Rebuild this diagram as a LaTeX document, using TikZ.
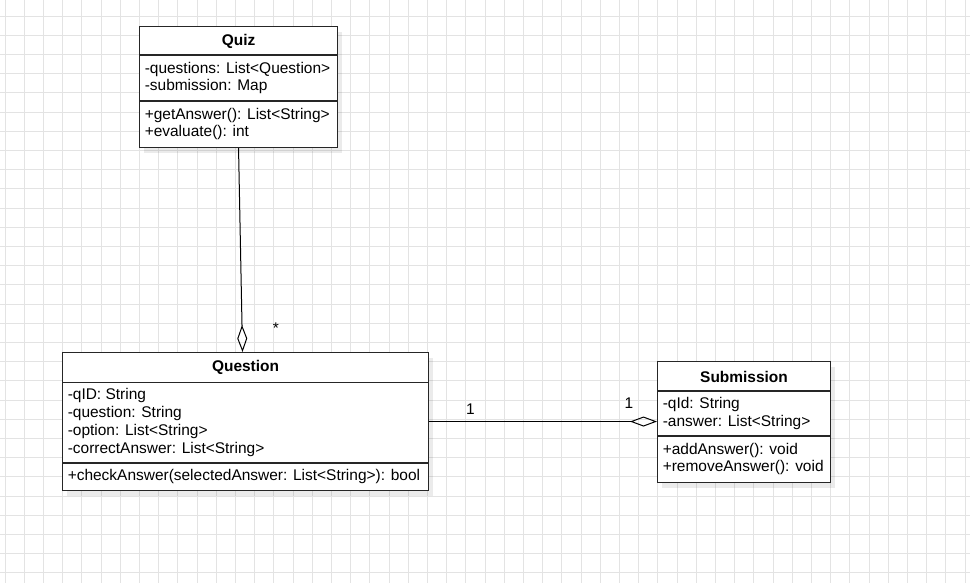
\documentclass[tikz,border=0pt]{standalone}
\usepackage{fontspec}
\setmainfont{Liberation Sans}
\usepackage{tikz}
\usetikzlibrary{arrows.meta}
\usetikzlibrary{shadows}
\newcommand*{\px   }{0.75pt}
\newcommand*{\gstp }{19.2}
\newcommand*{\indt }{5.5*\px}
\newcommand*{\umlfont}{\fontsize{11.6}{13.3}\selectfont}

\begin{document}
\begin{tikzpicture}[x=\px, y={(0,-\px)}, font=\umlfont,
        gridline/.style  = {draw=black!11, line width=0.75pt},
        classbox/.style  = {draw=black!85, line width=0.8pt, fill=white, anchor=north west, inner sep=0pt,
                            drop shadow={shadow xshift=3.5pt, shadow yshift=-4pt, fill=black, opacity=0.08}},
        classsep/.style  = {draw=black!85, line width=0.8pt},
        classtitle/.style= {font=\umlfont\bfseries, inner sep=0pt},
        members/.style   = {anchor=west, align=left, inner sep=0pt},
        mult/.style      = {anchor=base, inner sep=0pt},
        aggr/.style      = {draw=black, line width=0.75pt, -{Diamond[open, length=27*\px, width=10*\px]}}]
    \useasboundingbox [fill=white] (0,0) rectangle (970,583);
    % background grid
    \foreach \i in {0,...,50} \draw [gridline] ({5+\gstp*\i},0) -- ++(0,583);
    \foreach \j in {0,...,29} \draw [gridline] (0,{16+\gstp*\j}) -- ++(970,0);

    % Quiz
    \node [classbox, minimum width=198*\px, minimum height=121*\px] (quiz) at (139,26) {};
    \draw [classsep] ([yshift=-29*\px]quiz.north west) -- ++(198,0);
    \draw [classsep] ([yshift=-75*\px]quiz.north west) -- ++(198,0);
    \node [classtitle] (quiztitle) at ([yshift=-15*\px]quiz.north) {Quiz};
    \node [members] (quizattr) at ([xshift=\indt, yshift=-52*\px]quiz.north west)
        {-questions: List<Question>\\-submission: Map};
    \node [members] (quizops) at ([xshift=\indt, yshift=-98*\px]quiz.north west)
        {+getAnswer(): List<String>\\+evaluate(): int};

    % Question
    \node [classbox, minimum width=366*\px, minimum height=138*\px] (question) at (62,352) {};
    \draw [classsep] ([yshift=-30.5*\px]question.north west) -- ++(366,0);
    \draw [classsep] ([yshift=-111*\px]question.north west) -- ++(366,0);
    \node [classtitle] (questiontitle) at ([yshift=-15.5*\px]question.north) {Question};
    \node [members] (questionattr) at ([xshift=\indt, yshift=-70.5*\px]question.north west)
        {-qID: String\\-question: String\\-option: List<String>\\-correctAnswer: List<String>};
    \node [members] (questionops) at ([xshift=\indt, yshift=-124.5*\px]question.north west)
        {+checkAnswer(selectedAnswer: List<String>): bool};

    % Submission
    \node [classbox, minimum width=173*\px, minimum height=121*\px] (submission) at (657,361) {};
    \draw [classsep] ([yshift=-30*\px]submission.north west) -- ++(173,0);
    \draw [classsep] ([yshift=-75*\px]submission.north west) -- ++(173,0);
    \node [classtitle] (submissiontitle) at ([yshift=-15.5*\px]submission.north) {Submission};
    \node [members] (submissionattr) at ([xshift=\indt, yshift=-52.5*\px]submission.north west)
        {-qId: String\\-answer: List<String>};
    \node [members] (submissionops) at ([xshift=\indt, yshift=-98*\px]submission.north west)
        {+addAnswer(): void\\+removeAnswer(): void};

    % aggregations
    \draw [aggr] (quiz.south) -- ([xshift=-3*\px]question.north);
    \draw [aggr] (question.east) -- (question.east -| submission.west);
    \node [mult] (mquiz) at (276,333) {*};
    \node [mult] (mquestion) at (470.5,414.3) {1};
    \node [mult] (msubmission) at (629,408.3) {1};
\end{tikzpicture}
\end{document}
